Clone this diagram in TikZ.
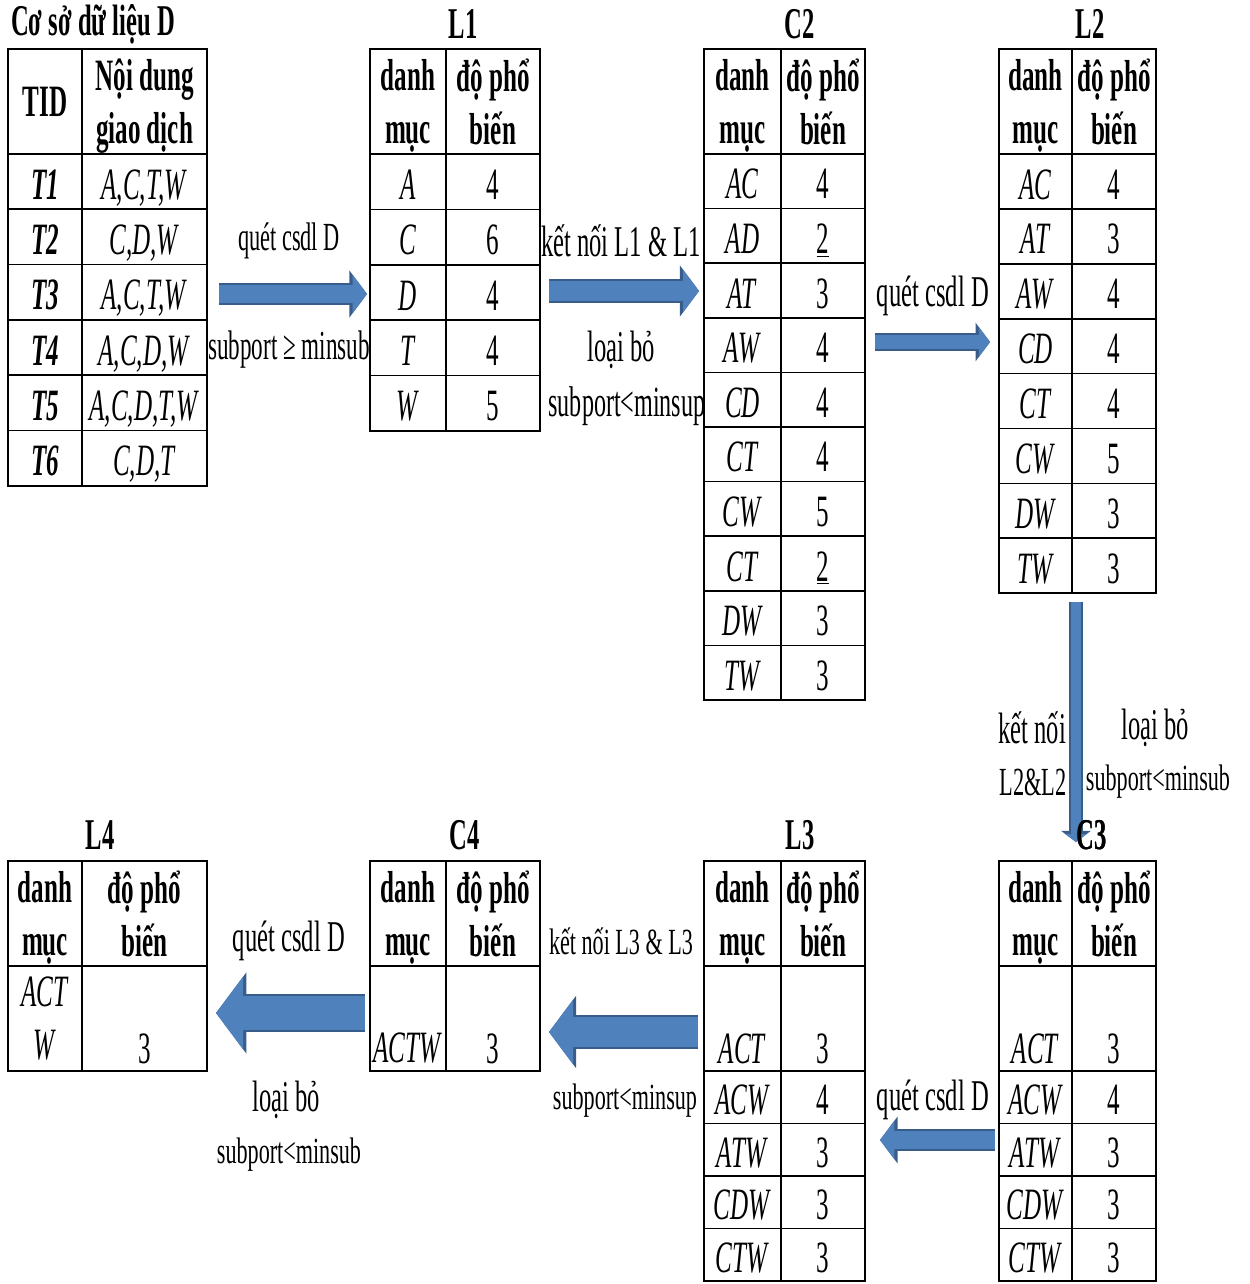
\documentclass[tikz,border=0pt]{standalone}
\usepackage{fontspec}
\setmainfont{Liberation Serif}[FakeStretch=0.56]
\newfontfamily\lbfont{Liberation Serif}[FakeStretch=0.6]
\usetikzlibrary{arrows.meta,positioning}
\definecolor{arrowblue}{RGB}{79,129,189}
\definecolor{arrowedge}{RGB}{56,93,138}
\newlength\px
\setlength\px{0.02cm}

\begin{document}
\begin{tikzpicture}[
    x=\px, y=-\px,
    font=\fontsize{25.5}{30}\selectfont,
    frame/.style 2 args={draw, fill=white, line width=1pt, outer sep=0pt, inner sep=0pt,
      anchor=north west, minimum width=#1\px, minimum height=#2\px},
    cell/.style 2 args={frame={#1}{#2}, align=center},
    dcell/.style 2 args={frame={#1}{#2}, text height=20pt, text depth=0pt},
    hcell/.style={cell={#1}{105}, text depth=0pt, font=\fontsize{25.5}{30}\selectfont\bfseries},
    ttl/.style={font=\fontsize{25}{30}\selectfont\bfseries},
    lbl/.style={align=center, font=\fontsize{#1}{30}\selectfont},
    lbl/.default=22.7,
    slbl/.style={font=\lbfont\fontsize{21}{25}\selectfont},
    fat/.style={draw=arrowblue, line width=#1\px,
      -{Triangle[length=0pt 0.8, width=0pt 2.1]},
      preaction={draw=arrowedge, line width=#1\px+4\px,
        -{Triangle[length=0pt 0.8, width=0pt 2.1]}}}
  ]
  \useasboundingbox (0,0) rectangle (1250,1284);

  % labels first, the tables cover what runs over
  \node[lbl] (q1) at (289,241) {quét csdl D};
  \node[lbl=23.5] (s1) at (289,350) {subport ≥ minsub};
  \node[lbl=25] (k1) at (621,241) {kết nối L1 \& L1};
  \node[lbl=25] (r1) at (621,350) {loại bỏ};
  \node[lbl=24.5] (s2) at (627,406) {subport<minsup};
  \node[lbl=25] (q2) at (933,296) {quét csdl D};
  \node[lbl=25] (k2) at (1032,728) {kết nối};
  \node[lbl] (k2b) at (1033,782) {L2\&L2};
  \node[lbl=25] (r2) at (1155,728) {loại bỏ};
  \node[slbl] (s3) at (1158,782) {subport<minsub};
  \node[lbl=25] (q3) at (933,1100) {quét csdl D};
  \node[slbl] (k3) at (621,941) {kết nối L3 \& L3};
  \node[slbl] (s4) at (625,1101) {subport<minsup};
  \node[lbl=25] (q4) at (289,941) {quét csdl D};
  \node[lbl=25] (r4) at (286,1100) {loại bỏ};
  \node[slbl] (s5) at (289,1155) {subport<minsub};

  % database D
  \node[ttl] (Dt) at (93,24) {Cơ sở dữ liệu D};
  \node[hcell=74] (D-0-1) at (8,49) {TID};
  \node[hcell=125] (D-0-2) at (82,49) {Nội dung\\giao dịch};
  \foreach \t/\c [count=\i] in {T1/{A,C,T,W}, T2/{C,D,W}, T3/{A,C,T,W},
      T4/{A,C,D,W}, T5/{A,C,D,T,W}, T6/{C,D,T}}{
    \node[dcell={74}{55.3}] (D-\i-1) at (8,{154+55.3*(\i-1)}) {\textbf{\textit{\t}}};
    \node[dcell={125}{55.3}] (D-\i-2) at (82,{154+55.3*(\i-1)}) {\textit{\c}};
  }

  % L1
  \node[ttl] (L1t) at (463,24) {L1};
  \node[hcell=76] (L1-0-1) at (370,49) {danh\\mục};
  \node[hcell=94] (L1-0-2) at (446,49) {độ phổ\\biến};
  \foreach \k/\v [count=\i] in {A/4, C/6, D/4, T/4, W/5}{
    \node[dcell={76}{55.4}] (L1-\i-1) at (370,{154+55.4*(\i-1)}) {\textit{\k}};
    \node[dcell={94}{55.4}] (L1-\i-2) at (446,{154+55.4*(\i-1)}) {\v};
  }

  % C2
  \node[ttl] (C2t) at (800,24) {C2};
  \node[hcell=77] (C2-0-1) at (704,49) {danh\\mục};
  \node[hcell=84] (C2-0-2) at (781,49) {độ phổ\\biến};
  \foreach \k/\v [count=\i] in {AC/4, AD/\underline{2}, AT/3, AW/4, CD/4,
      CT/4, CW/5, CT/\underline{2}, DW/3, TW/3}{
    \node[dcell={77}{54.6}] (C2-\i-1) at (704,{154+54.6*(\i-1)}) {\textit{\k}};
    \node[dcell={84}{54.6}] (C2-\i-2) at (781,{154+54.6*(\i-1)}) {\v};
  }

  % L2
  \node[ttl] (L2t) at (1090,24) {L2};
  \node[hcell=73] (L2-0-1) at (999,49) {danh\\mục};
  \node[hcell=84] (L2-0-2) at (1072,49) {độ phổ\\biến};
  \foreach \k/\v [count=\i] in {AC/4, AT/3, AW/4, CD/4, CT/4, CW/5, DW/3, TW/3}{
    \node[dcell={73}{54.9}] (L2-\i-1) at (999,{154+54.9*(\i-1)}) {\textit{\k}};
    \node[dcell={84}{54.9}] (L2-\i-2) at (1072,{154+54.9*(\i-1)}) {\v};
  }

  % L4
  \node[ttl] (L4t) at (100,835) {L4};
  \node[hcell=74] (L4-0-1) at (8,861) {danh\\mục};
  \node[hcell=125] (L4-0-2) at (82,861) {độ phổ\\biến};
  \node[cell={74}{105}] (L4-1-1) at (8,966) {\textit{ACT}\\\textit{W}};
  \node[cell={125}{105}] (L4-1-2) at (82,966) {\strut\\3};

  % C4
  \node[ttl] (C4t) at (465,835) {C4};
  \node[hcell=76] (C4-0-1) at (370,861) {danh\\mục};
  \node[hcell=94] (C4-0-2) at (446,861) {độ phổ\\biến};
  \node[cell={76}{105}] (C4-1-1) at (370,966) {\strut\\\textit{ACTW}};
  \node[cell={94}{105}] (C4-1-2) at (446,966) {\strut\\3};

  % L3 and C3
  \foreach \n/\x/\wa/\wb/\tx in {L3/704/77/84/800, C3/999/73/84/1092}{
    \node[ttl] (\n t) at (\tx,835) {\n};
    \node[hcell=\wa] (\n-0-1) at (\x,861) {danh\\mục};
    \node[hcell=\wb] (\n-0-2) at (\x+\wa,861) {độ phổ\\biến};
    \node[cell={\wa}{105}] (\n-1-1) at (\x,966) {\strut\\\textit{ACT}};
    \node[cell={\wb}{105}] (\n-1-2) at (\x+\wa,966) {\strut\\3};
    \foreach \k/\v [count=\i from 2] in {ACW/4, ATW/3, CDW/3, CTW/3}{
      \node[dcell={\wa}{52.5}] (\n-\i-1) at (\x,{1071+52.5*(\i-2)}) {\textit{\k}};
      \node[dcell={\wb}{52.5}] (\n-\i-2) at (\x+\wa,{1071+52.5*(\i-2)}) {\v};
    }
  }

  % block arrows
  \coordinate (a1s) at (219,294);  \coordinate (a1e) at (367,294);
  \coordinate (a2s) at (549,291);  \coordinate (a2e) at (699,291);
  \coordinate (a3s) at (875,342);  \coordinate (a3e) at (990,342);
  \coordinate (a4s) at (1076,602); \coordinate (a4e) at (1076,842);
  \coordinate (a5s) at (365,1013); \coordinate (a5e) at (216,1013);
  \coordinate (a6s) at (698,1032); \coordinate (a6e) at (549,1032);
  \coordinate (a7s) at (995,1140); \coordinate (a7e) at (880,1140);

  \draw[fat=18] (a1s) -- (a1e);
  \draw[fat=20] (a2s) -- (a2e);
  \draw[fat=14] (a3s) -- (a3e);
  \draw[fat=10] (a4s) -- (a4e);
  \draw[fat=34] (a5s) -- (a5e);
  \draw[fat=30] (a6s) -- (a6e);
  \draw[fat=18] (a7s) -- (a7e);
  \node[ttl] at (C3t) {C3};
\end{tikzpicture}
\end{document}
